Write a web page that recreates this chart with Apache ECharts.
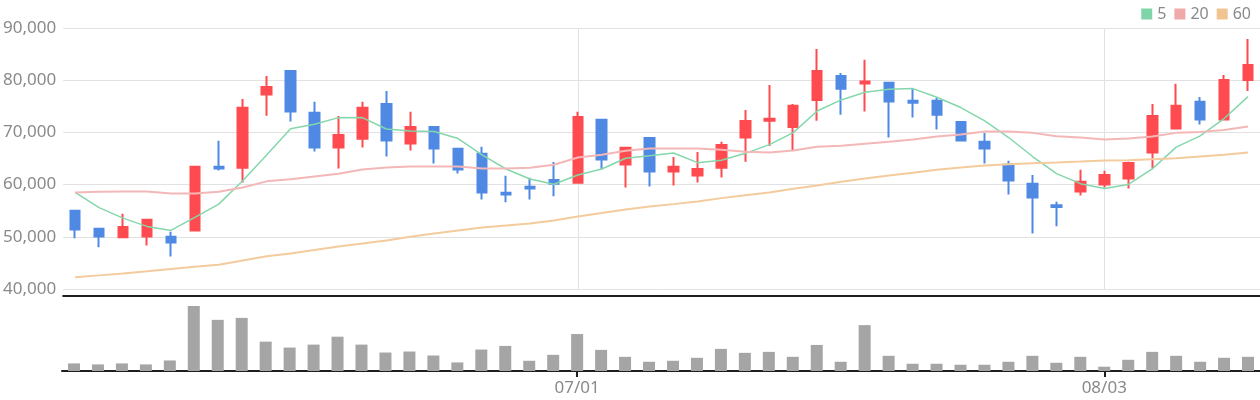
<!DOCTYPE html>
<html>
<head>
<meta charset="utf-8">
<script src="https://cdn.jsdelivr.net/npm/echarts@6/dist/echarts.min.js"></script>
<style>
html,body{margin:0;padding:0;background:#fff;}
#chart{width:1260px;height:400px;}
</style>
</head>
<body>
<div id="chart"></div>
<script>
const dates = [
  '06/02','06/03','06/04','06/05','06/08','06/09','06/10','06/11','06/12','06/15',
  '06/16','06/17','06/18','06/19','06/22','06/23','06/24','06/25','06/26','06/29',
  '06/30','07/01','07/02','07/06','07/07','07/08','07/09','07/10','07/13','07/14',
  '07/15','07/16','07/17','07/20','07/21','07/22','07/23','07/24','07/27','07/28',
  '07/29','07/30','07/31','08/03','08/04','08/05','08/06','08/07','08/10','08/11'
];
const openPrices = [55000,51550,49900,50050,50000,51200,63400,63250,77250,81750,
  73750,67100,68800,75450,67850,71050,66850,65900,58450,59600,
  60900,60350,72400,63850,68950,62500,61750,63250,69000,72250,
  71050,76200,80800,79350,79500,76050,76050,72000,68200,63800,
  60150,56050,58700,60000,61150,66150,70750,75850,72450,80050];
const closePrices = [51400,50050,51900,53250,48900,63400,63100,74700,78700,74000,
  67100,69500,74700,68450,71050,66900,62900,58500,58100,59250,
  60150,72950,64800,67050,62500,63400,63000,67600,72200,72600,
  75100,81750,78350,79750,75900,75700,73400,68450,66900,60800,
  57550,55700,60550,61850,64150,73150,75100,72450,80050,82900];
const lowPrices = [49700,48000,49900,48350,46250,51200,62700,60400,73200,72100,
  66350,63100,67100,65400,66550,64050,62150,57150,56600,57150,
  57750,60200,63000,59450,59650,59850,60400,61350,64400,67400,
  66450,72250,73400,74000,69000,72850,70550,68250,64050,58100,
  50650,52000,57900,59450,59250,63100,70750,71500,72450,77950];
const highPrices = [55000,51550,54400,53250,50950,63400,68400,76400,80800,81950,
  75850,73150,75850,77950,73950,71050,66850,67250,61700,61300,
  64350,73950,72400,67250,68950,65300,66250,68200,74300,79100,
  75450,86000,81400,83900,79500,78500,76600,72000,69900,64550,
  61850,56700,62850,62650,64360,75450,79300,76800,81000,87900];
const ma5 = [58500,55600,53580,51990,51220,53710,56260,60750,65650,70720,
  71560,72830,72840,70660,70250,70160,68820,65680,62990,61080,
  60060,61840,62990,65040,65540,66060,64200,64660,65990,67650,
  69950,74110,76220,77690,78260,78390,76730,74760,72210,69020,
  65380,62100,60180,59260,60020,63020,67170,69330,72650,76860];
const ma20 = [58500,58620,58680,58680,58300,58300,58620,59450,60620,61040,
  61550,62060,62890,63280,63470,63470,63470,63080,63080,63210,
  63790,65190,65700,66470,66910,66910,66910,66660,66270,66150,
  66530,67230,67420,67810,68190,68630,69210,69590,70160,70160,
  69910,69270,69020,68630,68830,69210,69910,70100,70480,71120];
const ma60 = [42230,42610,42990,43380,43820,44270,44650,45480,46270,46820,
  47460,48160,48730,49310,50010,50650,51220,51800,52180,52560,
  53140,53900,54540,55240,55810,56260,56770,57410,57980,58490,
  59190,59830,60530,61170,61750,62250,62830,63280,63660,63910,
  64110,64230,64420,64620,64680,64870,65060,65380,65700,66150];
const volumes = [23,20,23,20,32,197,155,161,89,71,
  80,104,80,56,59,47,26,65,76,31,
  49,112,64,43,28,31,40,67,55,58,
  43,79,28,139,46,22,22,19,19,28,
  46,25,43,13,34,58,46,28,40,43];
const maNames = ['5','20','60'];

const candleData = dates.map((d, i) => [openPrices[i], closePrices[i], lowPrices[i], highPrices[i]]);
const monthStart = (i) => i > 0 && dates[i].slice(0, 2) !== dates[i - 1].slice(0, 2);

const chart = echarts.init(document.getElementById('chart'), null, {renderer: 'canvas'});
chart.setOption({
  animation: false,
  backgroundColor: '#ffffff',
  legend: {
    data: maNames,
    right: 4,
    top: 1,
    icon: 'rect',
    itemWidth: 11,
    itemHeight: 11,
    itemGap: 8,
    textStyle: {color: '#8a8a8a', fontSize: 16, fontFamily: 'Noto Sans'}
  },
  grid: [
    {left: 62, right: 0, top: 28, bottom: 111},
    {left: 62, right: 0, top: 306, bottom: 29}
  ],
  xAxis: [
    {
      type: 'category', data: dates, gridIndex: 0, boundaryGap: true,
      offset: 7,
      axisLine: {lineStyle: {color: '#1e1e1e', width: 2}},
      axisTick: {show: false, alignWithLabel: true},
      axisLabel: {show: false},
      splitLine: {show: true, alignWithLabel: true, interval: (i) => monthStart(i), lineStyle: {color: '#e2e2e2', width: 1}}
    },
    {
      type: 'category', data: dates, gridIndex: 1, boundaryGap: true,
      axisLine: {lineStyle: {color: '#1e1e1e', width: 2}},
      axisTick: {show: true, alignWithLabel: true, interval: (i) => monthStart(i), length: 6, lineStyle: {color: '#1e1e1e', width: 2}},
      axisLabel: {interval: (i) => monthStart(i), color: '#8a8a8a', fontSize: 17, fontFamily: 'Liberation Sans Narrow, Noto Sans', margin: 9},
      splitLine: {show: false}
    }
  ],
  yAxis: [
    {
      type: 'value', gridIndex: 0, min: 40000, max: 90000, interval: 10000,
      axisLine: {show: false}, axisTick: {show: false},
      axisLabel: {color: '#8a8a8a', fontSize: 17, fontFamily: 'Noto Sans', margin: 7,
        formatter: (v) => v.toLocaleString('en-US')},
      splitLine: {lineStyle: {color: '#e2e2e2', width: 1}}
    },
    {
      type: 'value', gridIndex: 1, min: 0, max: 'dataMax',
      show: false, splitLine: {show: false}
    }
  ],
  series: [
    {
      type: 'candlestick', name: 'price', xAxisIndex: 0, yAxisIndex: 0,
      data: candleData, barWidth: 10,
      itemStyle: {color: '#ff4a4f', color0: '#4f89e3', borderColor: '#ff4a4f', borderColor0: '#4f89e3', borderWidth: 2}
    },
    {
      type: 'line', name: maNames[0], data: ma5, showSymbol: false, symbol: 'none',
      color: '#80d5a8', lineStyle: {width: 1.5, color: '#84d7ab'}
    },
    {
      type: 'line', name: maNames[1], data: ma20, showSymbol: false, symbol: 'none',
      color: '#f0a8a8', lineStyle: {width: 2, color: '#f4b7b7'}
    },
    {
      type: 'line', name: maNames[2], data: ma60, showSymbol: false, symbol: 'none',
      color: '#f0c592', lineStyle: {width: 2, color: '#f3cb9d'}
    },
    {
      type: 'bar', name: 'volume', xAxisIndex: 1, yAxisIndex: 1,
      data: volumes, barWidth: 12, itemStyle: {color: '#a5a5a5'}
    }
  ]
});
</script>
</body>
</html>
